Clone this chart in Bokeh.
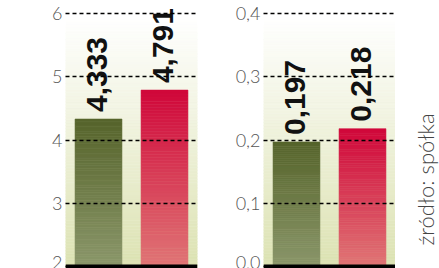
import numpy as np
from bokeh.plotting import figure
from bokeh.layouts import row
from bokeh.models import Range1d, FixedTicker, CustomJSTickFormatter, Span, Label
from bokeh.core.properties import value
from bokeh.embed import file_html
from bokeh.resources import INLINE

# ---- data ----
categories = ["poprzednio", "obecnie"]
left_values = [4.333, 4.791]
left_base = 2
left_ticks = [2, 3, 4, 5, 6]
right_values = [0.197, 0.218]
right_base = 0.0
right_ticks = [0.0, 0.1, 0.2, 0.3, 0.4]
source_text = "źródło: spółka"

# ---- style ----
bar_top_colors = ["#56642b", "#d0073a"]
bar_bottom_colors = ["#8b976b", "#e07676"]
bg_bottom = "#dce2b2"
TICK_FONT = "Lato Light"
H = 268
PX_PER_STEP = 63.2


def hex2rgb(h):
    h = h.lstrip("#")
    return np.array([int(h[i:i + 2], 16) for i in (0, 2, 4)], dtype=float)


def mix(c1, c2, t):
    a, b = hex2rgb(c1), hex2rgb(c2)
    c = a + (b - a) * t
    return "#%02x%02x%02x" % tuple(int(round(v)) for v in c)


def make_panel(values, base, ticks, width, border_left, border_right, comma_fmt):
    step = ticks[1] - ticks[0]
    start = base - 2 * step / PX_PER_STEP
    end = start + H * step / PX_PER_STEP
    n = len(categories)
    p = figure(width=width, height=H, x_range=Range1d(0, n), y_range=Range1d(start, end),
               output_backend="svg", toolbar_location=None,
               min_border_left=border_left, min_border_right=border_right,
               min_border_top=0, min_border_bottom=0)
    p.outline_line_color = None
    p.background_fill_color = "white"
    p.border_fill_color = "white"

    # background gradient (white at top -> pale olive at bottom)
    nb = 90
    edges = np.linspace(start, end, nb + 1)
    centers = (edges[:-1] + edges[1:]) / 2
    frac_top = (end - centers) / (end - start)
    f = np.clip((frac_top - 0.06) / 0.94, 0, 1)
    bg_cols = [mix("#ffffff", bg_bottom, t) for t in f]
    p.hbar(y=centers, height=(end - start) / nb, left=0, right=n,
           fill_color=bg_cols, line_color=bg_cols, line_width=0.6)

    # gradient bars (dark/strong at top, lighter at bottom)
    ns = 60
    xs, bots, tops, cols = [], [], [], []
    for i, v in enumerate(values):
        e = np.linspace(base, v, ns + 1)
        for k in range(ns):
            xs.append(i + 0.5)
            bots.append(e[k])
            tops.append(e[k + 1])
            t_from_top = 1 - (k + 0.5) / ns
            cols.append(mix(bar_top_colors[i], bar_bottom_colors[i], t_from_top))
    p.vbar(x=xs, bottom=bots, top=tops, width=0.71,
           fill_color=cols, line_color=cols, line_width=0.6)

    # value labels
    labels = [("%.3f" % v).replace(".", ",") for v in values]
    p.text(x=[i + 0.5 for i in range(n)], y=values, text=labels, angle=np.pi / 2,
           text_align="left", text_baseline="middle",
           text_font=value("Liberation Sans"), text_font_style="bold",
           text_font_size="30px", text_color="#111111", x_offset=-2, y_offset=-7)

    # axes / grid
    p.xaxis.visible = False
    p.xgrid.visible = False
    ax = p.yaxis[0]
    ax.ticker = FixedTicker(ticks=ticks)
    if comma_fmt:
        ax.formatter = CustomJSTickFormatter(code="return tick.toFixed(1).replace('.', ',');")
    ax.axis_line_color = None
    ax.major_tick_line_color = None
    ax.minor_tick_line_color = None
    ax.major_tick_out = 0
    ax.major_tick_in = 0
    ax.major_label_standoff = 3
    ax.major_label_text_font = TICK_FONT
    ax.major_label_text_font_size = "18px"
    ax.major_label_text_color = "#555555"
    p.ygrid.grid_line_color = "black"
    p.ygrid.grid_line_dash = "4 3"
    p.ygrid.grid_line_width = 1.3
    p.ygrid.level = "annotation"

    p.add_layout(Span(location=base, dimension="width", line_color="black",
                      line_width=4, level="overlay"))
    return p


p1 = make_panel(left_values, left_base, left_ticks, 220, 65, 23, False)
p2 = make_panel(right_values, right_base, right_ticks, 175, 43, 0, True)

# narrow strip holding the vertical source note
p3 = figure(width=44, height=H, x_range=Range1d(0, 1), y_range=Range1d(0, 1),
            output_backend="svg", toolbar_location=None,
            min_border_left=0, min_border_right=0, min_border_top=0, min_border_bottom=0)
p3.axis.visible = False
p3.grid.visible = False
p3.outline_line_color = None
p3.background_fill_color = "white"
p3.border_fill_color = "white"
p3.add_layout(Label(x=30, y=23, x_units="screen", y_units="screen", text=source_text,
                    angle=90, angle_units="deg", text_align="left", text_baseline="middle",
                    text_font=TICK_FONT, text_font_size="22px", text_color="#444444"))

layout = row(p1, p2, p3)
open("out.html", "w").write(file_html(layout, INLINE))
